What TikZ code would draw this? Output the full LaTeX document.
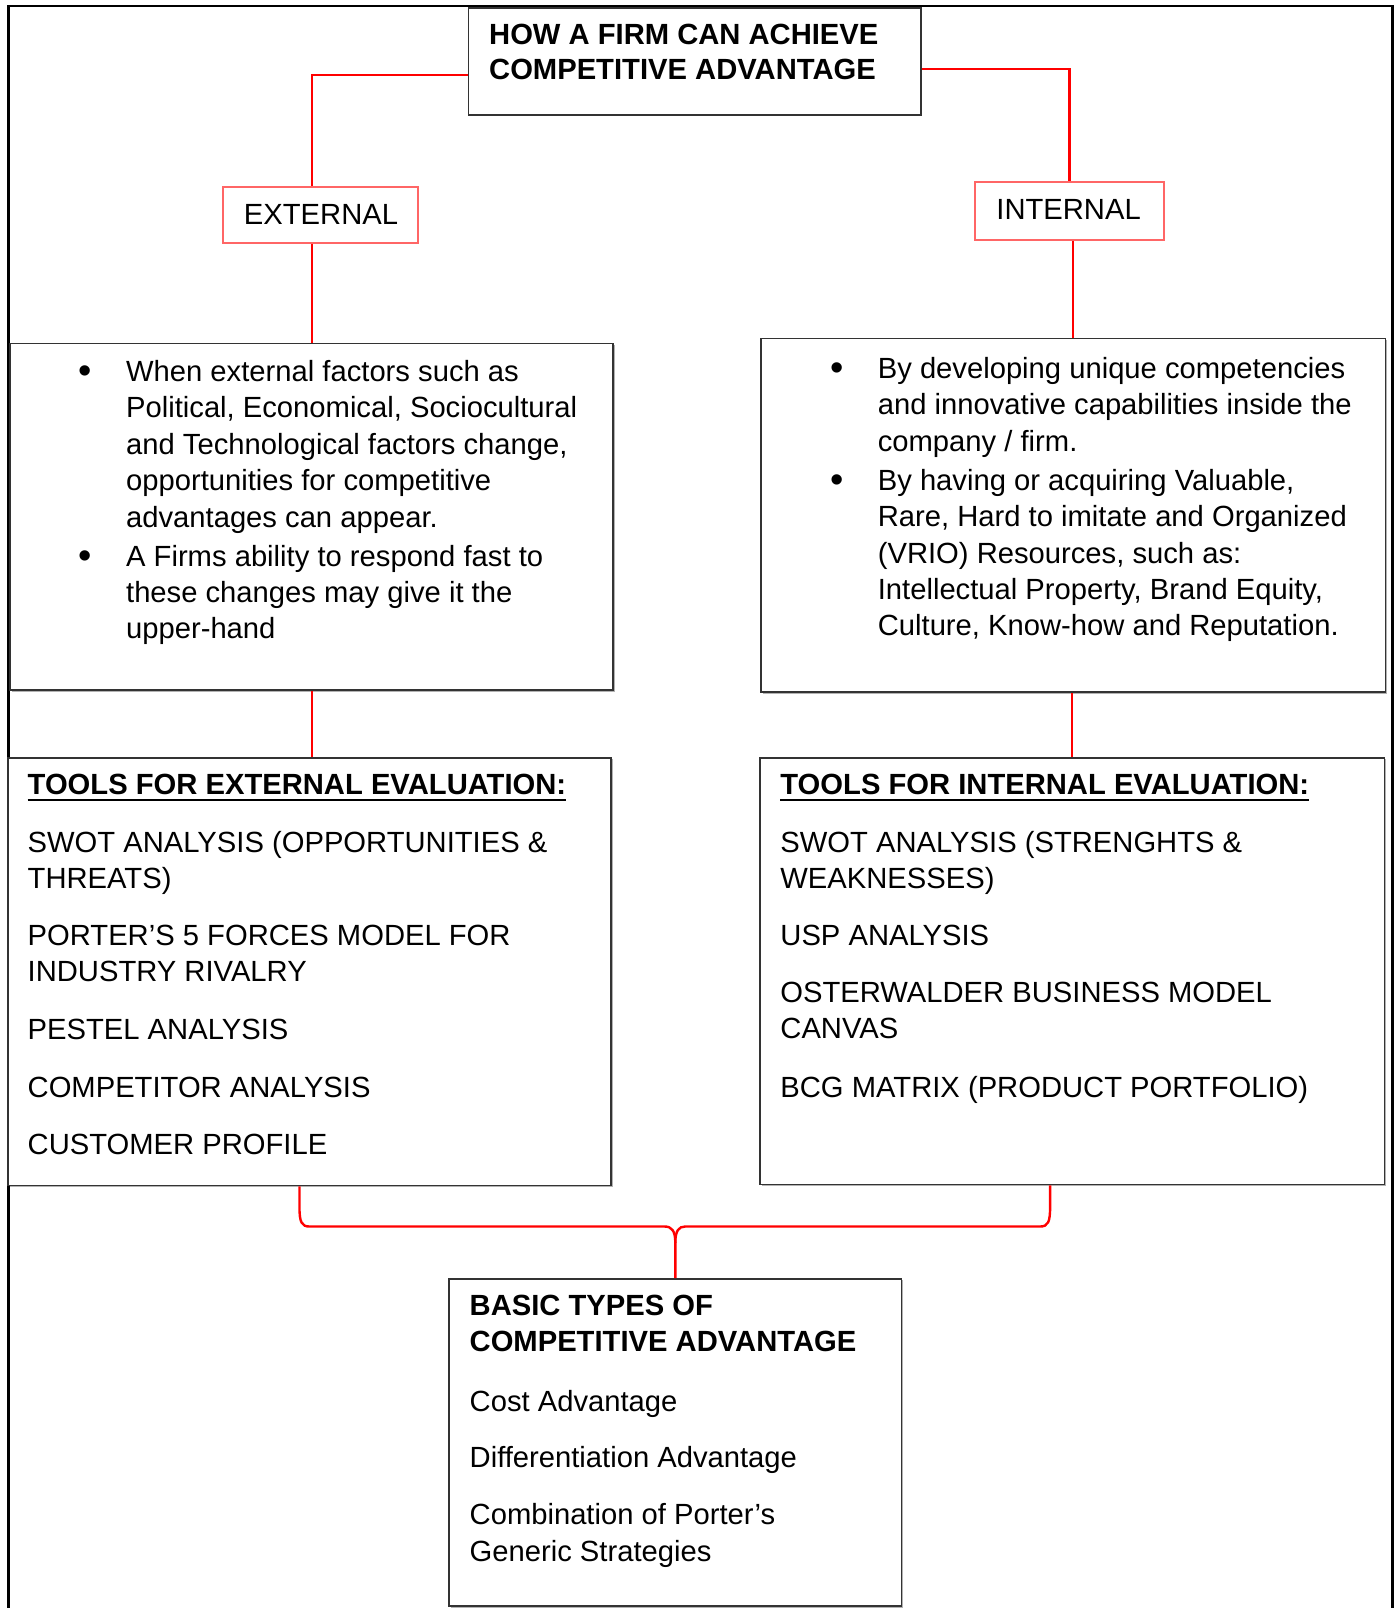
\documentclass[tikz,border=0pt]{standalone}
\usepackage{fontspec}
\setmainfont{Liberation Sans}
\usetikzlibrary{fit,shadows}

% place a column of text lines: name, x, first baseline, line step, {line list}
\newcommand\textlines[5]{%
  \foreach \linetext [count=\k from 0] in {#5}{%
    \node[txt] (#1-\k) at (#2, {#3+\k*#4}) {\linetext};}}

\begin{document}
\begin{tikzpicture}[x=0.51285pt,y=-0.51285pt,
  every node/.style={font=\fontsize{14.6pt}{18pt}\selectfont},
  txt/.style={inner sep=0pt, outer sep=0pt, anchor=base west},
  boldtxt/.style={txt, font=\fontsize{14.6pt}{18pt}\selectfont\bfseries},
  dot/.style={txt, anchor=base, font=\fontsize{19pt}{18pt}\selectfont},
  box/.style={draw=black!80, line width=0.8pt, inner sep=0pt, fill=white},
  shadowbox/.style={box, drop shadow={shadow xshift=0.8pt, shadow yshift=-0.8pt, fill=black, opacity=0.3}},
  redbox/.style={draw=red!60, line width=1pt, inner sep=0pt, fill=white},
  link/.style={draw=red, line width=1.2pt},
  frame/.style={line width=1.3pt},
  uline/.style={line width=1.2pt},
]
\useasboundingbox (0,0) rectangle (1363,1568);

% outer frame
\draw[frame] (8,1568) -- (8,6) -- (1358,6) -- (1358,1568);

% boxes
\node[box, fit={(457,8) (898,112)}] (title) {};
\node[redbox, fit={(217,182) (408,237)}] (ext) {};
\node[redbox, fit={(951,177) (1135,234)}] (int) {};
\node[shadowbox, fit={(10,335) (598,673)}] (extb) {};
\node[shadowbox, fit={(742,330) (1351,675)}] (intb) {};
\node[shadowbox, fit={(8,739) (596,1156)}] (exttools) {};
\node[shadowbox, fit={(741,739) (1350,1155)}] (inttools) {};
\node[shadowbox, fit={(438,1247) (879,1566)}] (basic) {};

% labels of the two branches
\node[txt, anchor=base] (extl) at (313,219) {EXTERNAL};
\node[txt, anchor=base] (intl) at (1042,214) {INTERNAL};

% title
\node[boldtxt] (title-0) at (477,43) {HOW A FIRM CAN ACHIEVE};
\node[boldtxt] (title-1) at (477,78) {COMPETITIVE ADVANTAGE};

% external factors
\node[dot] (eb1) at (83,374) {•};
\node[dot] (eb2) at (83,554) {•};
\textlines{exta}{123}{372}{35.5}{{When external factors such as},{Political, Economical, Sociocultural},{and Technological factors change,},{opportunities for competitive},{advantages can appear.}}
\textlines{extc}{123}{552}{35.5}{{A Firms ability to respond fast to},{these changes may give it the},{upper-hand}}

% internal factors
\node[dot] (ib1) at (816,371) {•};
\node[dot] (ib2) at (816,480) {•};
\textlines{inta}{856}{369}{35.5}{{By developing unique competencies},{and innovative capabilities inside the},{company / firm.}}
\textlines{intc}{856}{478}{35.5}{{By having or acquiring Valuable,},{Rare, Hard to imitate and Organized},{(VRIO) Resources, such as:},{Intellectual Property, Brand Equity,},{Culture, Know-how and Reputation.}}

% external tools
\node[boldtxt] (eth) at (27,775) {TOOLS FOR EXTERNAL EVALUATION:};
\draw[uline] ([yshift=-2.7pt]eth.base west) -- ([yshift=-2.7pt]eth.base east);
\textlines{et1}{27}{831}{35}{{SWOT ANALYSIS (OPPORTUNITIES \&},{THREATS)}}
\textlines{et2}{27}{922}{35}{{PORTER’S 5 FORCES MODEL FOR},{INDUSTRY RIVALRY}}
\node[txt] (et3) at (27,1014) {PESTEL ANALYSIS};
\node[txt] (et4) at (27,1070) {COMPETITOR ANALYSIS};
\node[txt] (et5) at (27,1126) {CUSTOMER PROFILE};

% internal tools
\node[boldtxt] (ith) at (761,775) {TOOLS FOR INTERNAL EVALUATION:};
\draw[uline] ([yshift=-2.7pt]ith.base west) -- ([yshift=-2.7pt]ith.base east);
\textlines{it1}{761}{831}{35}{{SWOT ANALYSIS (STRENGHTS \&},{WEAKNESSES)}}
\node[txt] (it2) at (761,922) {USP ANALYSIS};
\textlines{it3}{761}{978}{35}{{OSTERWALDER BUSINESS MODEL},{CANVAS}}
\node[txt] (it4) at (761,1070) {BCG MATRIX (PRODUCT PORTFOLIO)};

% basic types
\node[boldtxt] (bt-0) at (458,1283) {BASIC TYPES OF};
\node[boldtxt] (bt-1) at (458,1318) {COMPETITIVE ADVANTAGE};
\node[txt] (bc1) at (458,1376) {Cost Advantage};
\node[txt] (bc2) at (458,1431) {Differentiation Advantage};
\textlines{bc3}{458}{1487}{36}{{Combination of Porter’s},{Generic Strategies}}

% connectors
\draw[link] ([yshift=-6.7pt]title.west) -| (extb.north |- ext.north);
\draw[link] ([yshift=-3.6pt]title.east) -| (int.north);
\draw[link] (ext.south -| extb.north) -- (extb.north);
\draw[link] (int.south -| intb.north) -- (intb.north);
\draw[link] (extb.south) -- (extb.south |- exttools.north);
\draw[link] (intb.south -| inttools.north) -- (inttools.north);

% bracket joining both tool boxes into the bottom box
\coordinate (bl) at ([xshift=-5.1pt]exttools.south);
\coordinate (br) at ([xshift=-11pt]inttools.south);
\draw[link] (bl) -- (292,1176) .. controls (292,1192) and (294,1196) .. (302,1196)
  -- (648,1196) .. controls (655,1196) and (658.5,1200) .. (658.5,1212) -- (basic.north);
\draw[link] (br) -- (1024,1176) .. controls (1024,1192) and (1022,1196) .. (1014,1196)
  -- (668,1196) .. controls (662,1196) and (658.5,1200) .. (658.5,1212);
\end{tikzpicture}
\end{document}
